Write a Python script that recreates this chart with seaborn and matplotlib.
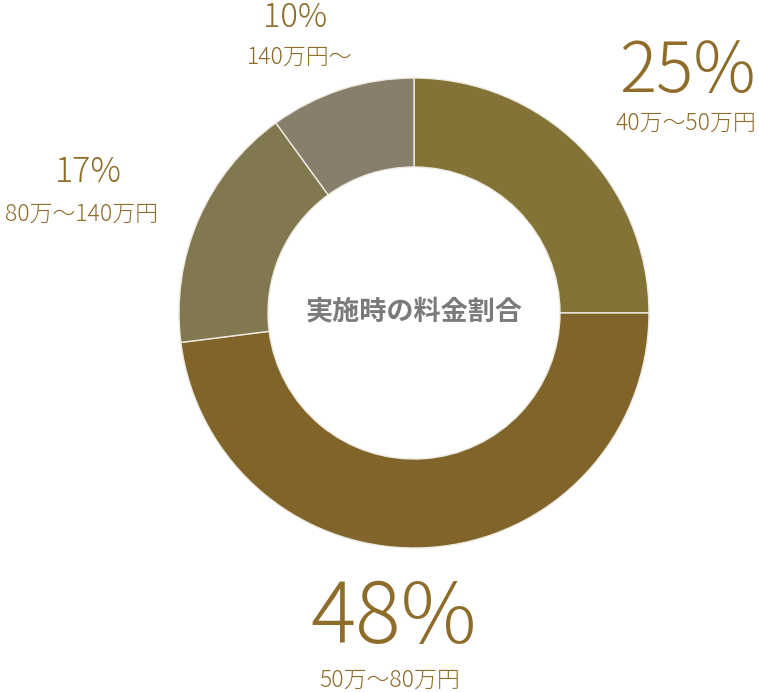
import matplotlib
matplotlib.use("Agg")
import matplotlib.pyplot as plt
import seaborn as sns

sns.set_theme(style="white")
plt.rcParams['font.family'] = ['Noto Sans CJK JP', 'DejaVu Sans']

categories = ["40万〜50万円", "50万〜80万円", "80万〜140万円", "140万円〜"]
values = [25, 48, 17, 10]
pct_labels = ["25%", "48%", "17%", "10%"]
colors = ["#837337", "#80642a", "#817850", "#877e6b"]
center_title = "実施時の料金割合"

W, H = 759, 692
fig = plt.figure(figsize=(W / 100, H / 100), dpi=100)
ax = fig.add_axes([0, 0, 1, 1])
ax.set_xlim(0, W)
ax.set_ylim(0, H)
ax.set_aspect("equal")
ax.axis("off")

cx, cy, R = 414, H - 313, 235
ax.pie(values, colors=colors, startangle=90, counterclock=False,
       center=(cx, cy), radius=R,
       wedgeprops=dict(width=R - 146, edgecolor="#eeebe2", linewidth=1))
ax.set_xlim(0, W)
ax.set_ylim(0, H)

txt_color = "#8e6c2a"
# label positions (pixel coords, image y) and sizes
pos = {
    "25%": ((687, 73), 50, (686, 123)),
    "48%": ((394, 620), 61, (390, 680)),
    "17%": ((88, 172), 24.5, (81, 214)),
    "10%": ((295, 18), 23.5, (300, 57)),
}
for pct, cat in zip(pct_labels, categories):
    (px, py), fs, (sx, sy) = pos[pct]
    ax.text(px, H - py, pct, ha="center", va="center", fontsize=fs,
            color=txt_color, fontweight="light")
    ax.text(sx, H - sy, cat, ha="center", va="center", fontsize=16.5,
            color=txt_color, fontweight="light")

ax.text(cx, H - 311, center_title, ha="center", va="center", fontsize=19.5,
        color="#7a7a7a", fontweight="bold")

fig.savefig("out.png", dpi=100)
